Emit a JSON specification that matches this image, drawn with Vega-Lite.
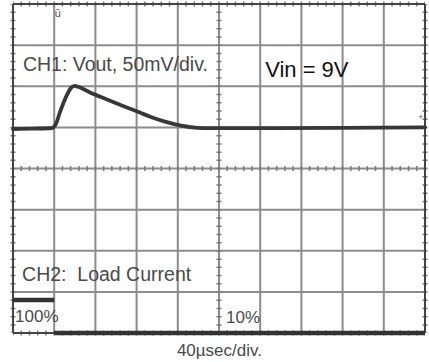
{
  "$schema": "https://vega.github.io/schema/vega-lite/v6.json",
  "width": 412,
  "height": 329,
  "autosize": {"type": "none"},
  "padding": {"left": 13, "top": 4, "right": 4, "bottom": 29},
  "background": "white",
  "config": {"view": {"stroke": null}},
  "datasets": {
    "vgrid": [{"x": 1}, {"x": 2}, {"x": 3}, {"x": 4}, {"x": 5}, {"x": 6}, {"x": 7}, {"x": 8}, {"x": 9}],
    "hgrid": [{"y": -3}, {"y": -2}, {"y": -1}, {"y": 0}, {"y": 1}, {"y": 2}, {"y": 3}],
    "vframe": [{"x": 0}, {"x": 5}, {"x": 10}],
    "hframe": [{"y": -4}, {"y": 0}, {"y": 4}],
    "vout": [
      {"t": 0, "v": 0.96},
      {"t": 0.5, "v": 0.97},
      {"t": 0.95, "v": 0.985},
      {"t": 1.04, "v": 1.08},
      {"t": 1.14, "v": 1.37},
      {"t": 1.31, "v": 1.79},
      {"t": 1.41, "v": 1.96},
      {"t": 1.5, "v": 2.01},
      {"t": 1.6, "v": 1.98},
      {"t": 1.87, "v": 1.85},
      {"t": 2.28, "v": 1.68},
      {"t": 2.67, "v": 1.52},
      {"t": 3.08, "v": 1.36},
      {"t": 3.33, "v": 1.26},
      {"t": 3.69, "v": 1.14},
      {"t": 4.05, "v": 1.05},
      {"t": 4.47, "v": 0.99},
      {"t": 4.78, "v": 0.98},
      {"t": 6.0, "v": 0.98},
      {"t": 7.94, "v": 0.99},
      {"t": 10, "v": 1.0}
    ],
    "load": [
      {"level": "100%", "t": 0, "i": -3.2},
      {"level": "100%", "t": 1, "i": -3.2},
      {"level": "10%", "t": 1, "i": -4.0},
      {"level": "10%", "t": 10, "i": -4.0}
    ]
  },
  "layer": [
    {
      "data": {"name": "vgrid"},
      "mark": {"type": "rule", "color": "#8c8c8c", "strokeWidth": 2},
      "encoding": {"x": {"field": "x", "type": "quantitative", "scale": {"domain": [0, 10], "nice": false, "zero": false}, "axis": null}}
    },
    {
      "data": {"name": "hgrid"},
      "mark": {"type": "rule", "color": "#8c8c8c", "strokeWidth": 2},
      "encoding": {"y": {"field": "y", "type": "quantitative", "scale": {"domain": [-4, 4], "nice": false, "zero": false}, "axis": null}}
    },
    {
      "data": {"name": "vframe"},
      "mark": {"type": "rule", "color": "#7a7a7a", "strokeWidth": 5, "strokeDash": [1.5, 6.73], "strokeDashOffset": 0.75},
      "encoding": {"x": {"field": "x", "type": "quantitative", "scale": {"domain": [0, 10], "nice": false, "zero": false}, "axis": null}}
    },
    {
      "data": {"name": "hframe"},
      "mark": {"type": "rule", "color": "#7a7a7a", "strokeWidth": 5, "strokeDash": [1.5, 6.74], "strokeDashOffset": 0.75},
      "encoding": {"y": {"field": "y", "type": "quantitative", "scale": {"domain": [-4, 4], "nice": false, "zero": false}, "axis": null}}
    },
    {
      "data": {"values": [{"x": 0}, {"x": 10}]},
      "mark": {"type": "rule", "color": "#444444", "strokeWidth": 2},
      "encoding": {"x": {"field": "x", "type": "quantitative", "scale": {"domain": [0, 10], "nice": false, "zero": false}, "axis": null}}
    },
    {
      "data": {"values": [{"y": -4}, {"y": 4}]},
      "mark": {"type": "rule", "color": "#444444", "strokeWidth": 2},
      "encoding": {"y": {"field": "y", "type": "quantitative", "scale": {"domain": [-4, 4], "nice": false, "zero": false}, "axis": null}}
    },
    {
      "data": {"name": "vout"},
      "mark": {"type": "line", "color": "#383838", "strokeWidth": 3.8, "interpolate": "monotone", "strokeCap": "round", "strokeJoin": "round"},
      "encoding": {
        "x": {"field": "t", "type": "quantitative", "scale": {"domain": [0, 10], "nice": false, "zero": false}, "axis": null},
        "y": {"field": "v", "type": "quantitative", "scale": {"domain": [-4, 4], "nice": false, "zero": false}, "axis": null}
      }
    },
    {
      "data": {"name": "load"},
      "mark": {"type": "line", "color": "#333333", "strokeWidth": 4.5},
      "encoding": {
        "x": {"field": "t", "type": "quantitative", "scale": {"domain": [0, 10], "nice": false, "zero": false}, "axis": null},
        "y": {"field": "i", "type": "quantitative", "scale": {"domain": [-4, 4], "nice": false, "zero": false}, "axis": null},
        "detail": {"field": "level", "type": "nominal"}
      }
    },
    {
      "data": {"values": [{"label": "CH1: Vout, 50mV/div."}]},
      "mark": {"type": "text", "align": "left", "baseline": "middle", "font": "Liberation Sans", "fontSize": 19.5, "color": "#4a4a4a"},
      "encoding": {"x": {"datum": 0.24}, "y": {"datum": 2.52}, "text": {"field": "label"}}
    },
    {
      "data": {"values": [{"label": "Vin = 9V"}]},
      "mark": {"type": "text", "align": "left", "baseline": "middle", "font": "Liberation Sans", "fontSize": 22, "color": "#111111"},
      "encoding": {"x": {"datum": 6.12}, "y": {"datum": 2.4}, "text": {"field": "label"}}
    },
    {
      "data": {"values": [{"label": "CH2:\u00a0 Load Current"}]},
      "mark": {"type": "text", "align": "left", "baseline": "middle", "font": "Liberation Sans", "fontSize": 19.5, "color": "#4a4a4a"},
      "encoding": {"x": {"datum": 0.22}, "y": {"datum": -2.59}, "text": {"field": "label"}}
    },
    {
      "data": {"values": [{"label": "100%"}]},
      "mark": {"type": "text", "align": "left", "baseline": "middle", "font": "Liberation Sans", "fontSize": 17, "color": "#4a4a4a"},
      "encoding": {"x": {"datum": 0.05}, "y": {"datum": -3.61}, "text": {"field": "label"}}
    },
    {
      "data": {"values": [{"label": "10%"}]},
      "mark": {"type": "text", "align": "left", "baseline": "middle", "font": "Liberation Sans", "fontSize": 17, "color": "#4a4a4a"},
      "encoding": {"x": {"datum": 5.17}, "y": {"datum": -3.64}, "text": {"field": "label"}}
    },
    {
      "data": {"values": [{"label": "40µsec/div."}]},
      "mark": {"type": "text", "align": "center", "baseline": "middle", "font": "Liberation Sans", "fontSize": 17, "color": "#4a4a4a"},
      "encoding": {"x": {"datum": 5.01}, "y": {"datum": -4.44}, "text": {"field": "label"}}
    },
    {
      "data": {"values": [{"label": "ū"}]},
      "mark": {"type": "text", "align": "center", "baseline": "middle", "font": "Liberation Sans", "fontSize": 11, "color": "#555555"},
      "encoding": {"x": {"datum": 1.09}, "y": {"datum": 3.76}, "text": {"field": "label"}}
    },
    {
      "data": {"values": [{"label": "+"}]},
      "mark": {"type": "text", "align": "center", "baseline": "middle", "font": "Liberation Sans", "fontSize": 9, "color": "#666666"},
      "encoding": {"x": {"datum": 9.9}, "y": {"datum": 1.25}, "text": {"field": "label"}}
    }
  ]
}
